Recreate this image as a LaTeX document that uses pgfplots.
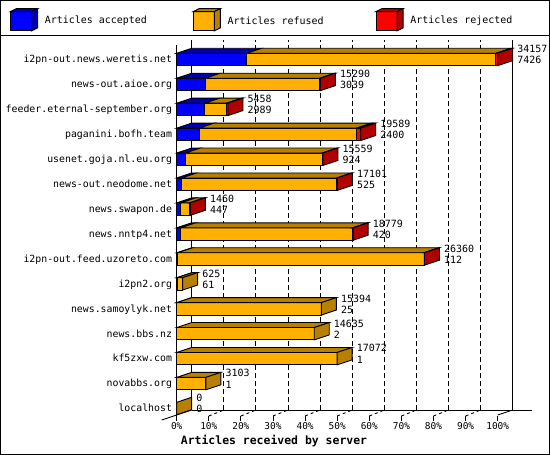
\documentclass[border=0pt]{standalone}
\usepackage{fontspec}
\setmainfont{DejaVu Sans Mono}
\usepackage{pgfplots}
\usepackage{pgfplotstable}
\pgfplotsset{compat=1.18}
\definecolor{cBlue}{RGB}{0,0,255}
\definecolor{cBlueD}{RGB}{0,0,176}
\definecolor{cOrange}{RGB}{255,176,0}
\definecolor{cOrangeD}{RGB}{184,128,0}
\definecolor{cRed}{RGB}{255,0,0}
\definecolor{cRedD}{RGB}{176,0,0}
\pgfplotsset{face/.style={draw=black, line width=0.9bp, forget plot}}

% row total accepted rejected (refused = total - accepted - rejected)
\pgfplotstableread{
row total acc rej
0 34157 7426 200
1 15290 3039 70
2 5458 2989 140
3 19589 2400 420
4 15559 924 60
5 17101 525 70
6 1460 447 100
7 18779 420 30
8 26360 112 50
9 625 61 0
10 15394 25 0
11 14635 2 0
12 17072 1 0
13 3103 1 0
14 0 0 0
}\data

\begin{document}
\begin{tikzpicture}
\useasboundingbox (0,0) rectangle (550bp,-455bp);
\fontsize{10}{12}\selectfont

% back wall with grid
\begin{axis}[at={(191.7bp,-40bp)}, anchor=north west, scale only axis,
  width=340bp, height=370bp, xmin=0, xmax=36179, ymin=0, ymax=1,
  axis x line*=bottom, axis y line*=left,
  axis line style={-, black, line width=0.9bp},
  xtick={3415.7,6831.4,10247.1,13662.8,17078.5,20494.2,23909.9,27325.6,30741.3},
  xticklabels={}, scaled x ticks=false, ytick=\empty,
  xticklabel style={text opacity=0},
  xmajorgrids, major grid style={black, line width=0.9bp, dash pattern=on 5bp off 3bp},
  major tick length=0pt,
  extra x ticks={34157}, extra x tick labels={},
  extra x tick style={major grid style={solid, black, line width=0.9bp}},
]
\end{axis}

\begin{axis}[at={(176.7bp,-45bp)}, anchor=north west, scale only axis,
  width=321bp, height=371bp,
  xmin=0, xmax=34157, ymin=-14.3, ymax=0.5816,
  clip=false, scaled x ticks=false,
  axis x line*=bottom, axis y line*=left,
  x axis line style={draw=none},
  y axis line style={-, black, line width=0.9bp},
  xtick={0,3415.7,6831.4,10247.1,13662.8,17078.5,20494.2,23909.9,27325.6,30741.3,34157},
  xticklabels={0\%,10\%,20\%,30\%,40\%,50\%,60\%,70\%,80\%,90\%,100\%},
  ytick={-14,-13,-12,-11,-10,-9,-8,-7,-6,-5,-4,-3,-2,-1,0},
  yticklabels={localhost,novabbs.org,kf5zxw.com,news.bbs.nz,news.samoylyk.net,i2pn2.org,i2pn-out.feed.uzoreto.com,news.nntp4.net,news.swapon.de,news-out.neodome.net,usenet.goja.nl.eu.org,paganini.bofh.team,feeder.eternal-september.org,news-out.aioe.org,i2pn-out.news.weretis.net},
  tick align=outside, major tick length=4.5bp,
  ytick style={draw=none},
  xtick style={black, line width=0.9bp},
  /pgf/number format/assume math mode=true,
  xticklabel style={font=\fontsize{9.5}{10}\selectfont, anchor=center, yshift=-6bp},
  yticklabel style={font=\fontsize{9.9}{12}\selectfont, anchor=east, inner xsep=0pt, xshift=0bp, text height=1.5ex, text depth=0.3ex},
  xlabel={Articles received by server},
  xlabel style={font=\fontsize{11.5}{13}\selectfont\bfseries, at={(rel axis cs:0.3031,0)}, anchor=center, yshift=-25bp},
]
% front faces (stacked: accepted, refused, rejected)
\addplot[xbar, bar width=12.4bp, fill=cRed, draw=black, line width=0.9bp] table[x=total, y expr=-\thisrow{row}] \data;
\addplot[xbar, bar width=12.4bp, fill=cOrange, draw=black, line width=0.9bp] table[x expr=\thisrow{total}-\thisrow{rej}, y expr=-\thisrow{row}] \data;
\addplot[xbar, bar width=12.4bp, fill=cBlue, draw=black, line width=0.9bp] table[x=acc, y expr=-\thisrow{row}] \data;

% top and side faces
% r0
\addplot[face, fill=cBlueD] coordinates {(0,0.2487) (7426,0.2487) (9022,0.4493) (1596,0.4493)} -- cycle;
\addplot[face, fill=cOrangeD] coordinates {(7426,0.2487) (33957,0.2487) (35553,0.4493) (9022,0.4493)} -- cycle;
\addplot[face, fill=cRedD] coordinates {(33957,0.2487) (34157,0.2487) (35753,0.4493) (35553,0.4493)} -- cycle;
\addplot[face, fill=cRedD] coordinates {(34157,-0.2487) (34157,0.2487) (35753,0.4493) (35753,-0.0481)} -- cycle;
% r1
\addplot[face, fill=cBlueD] coordinates {(0,-0.7513) (3039,-0.7513) (4635,-0.5507) (1596,-0.5507)} -- cycle;
\addplot[face, fill=cOrangeD] coordinates {(3039,-0.7513) (15220,-0.7513) (16816,-0.5507) (4635,-0.5507)} -- cycle;
\addplot[face, fill=cRedD] coordinates {(15220,-0.7513) (15290,-0.7513) (16886,-0.5507) (16816,-0.5507)} -- cycle;
\addplot[face, fill=cRedD] coordinates {(15290,-1.2487) (15290,-0.7513) (16886,-0.5507) (16886,-1.0481)} -- cycle;
% r2
\addplot[face, fill=cBlueD] coordinates {(0,-1.7513) (2989,-1.7513) (4585,-1.5507) (1596,-1.5507)} -- cycle;
\addplot[face, fill=cOrangeD] coordinates {(2989,-1.7513) (5318,-1.7513) (6914,-1.5507) (4585,-1.5507)} -- cycle;
\addplot[face, fill=cRedD] coordinates {(5318,-1.7513) (5458,-1.7513) (7054,-1.5507) (6914,-1.5507)} -- cycle;
\addplot[face, fill=cRedD] coordinates {(5458,-2.2487) (5458,-1.7513) (7054,-1.5507) (7054,-2.0481)} -- cycle;
% r3
\addplot[face, fill=cBlueD] coordinates {(0,-2.7513) (2400,-2.7513) (3996,-2.5507) (1596,-2.5507)} -- cycle;
\addplot[face, fill=cOrangeD] coordinates {(2400,-2.7513) (19169,-2.7513) (20765,-2.5507) (3996,-2.5507)} -- cycle;
\addplot[face, fill=cRedD] coordinates {(19169,-2.7513) (19589,-2.7513) (21185,-2.5507) (20765,-2.5507)} -- cycle;
\addplot[face, fill=cRedD] coordinates {(19589,-3.2487) (19589,-2.7513) (21185,-2.5507) (21185,-3.0481)} -- cycle;
% r4
\addplot[face, fill=cBlueD] coordinates {(0,-3.7513) (924,-3.7513) (2520,-3.5507) (1596,-3.5507)} -- cycle;
\addplot[face, fill=cOrangeD] coordinates {(924,-3.7513) (15499,-3.7513) (17095,-3.5507) (2520,-3.5507)} -- cycle;
\addplot[face, fill=cRedD] coordinates {(15499,-3.7513) (15559,-3.7513) (17155,-3.5507) (17095,-3.5507)} -- cycle;
\addplot[face, fill=cRedD] coordinates {(15559,-4.2487) (15559,-3.7513) (17155,-3.5507) (17155,-4.0481)} -- cycle;
% r5
\addplot[face, fill=cBlueD] coordinates {(0,-4.7513) (525,-4.7513) (2121,-4.5507) (1596,-4.5507)} -- cycle;
\addplot[face, fill=cOrangeD] coordinates {(525,-4.7513) (17031,-4.7513) (18627,-4.5507) (2121,-4.5507)} -- cycle;
\addplot[face, fill=cRedD] coordinates {(17031,-4.7513) (17101,-4.7513) (18697,-4.5507) (18627,-4.5507)} -- cycle;
\addplot[face, fill=cRedD] coordinates {(17101,-5.2487) (17101,-4.7513) (18697,-4.5507) (18697,-5.0481)} -- cycle;
% r6
\addplot[face, fill=cBlueD] coordinates {(0,-5.7513) (447,-5.7513) (2043,-5.5507) (1596,-5.5507)} -- cycle;
\addplot[face, fill=cOrangeD] coordinates {(447,-5.7513) (1360,-5.7513) (2956,-5.5507) (2043,-5.5507)} -- cycle;
\addplot[face, fill=cRedD] coordinates {(1360,-5.7513) (1460,-5.7513) (3056,-5.5507) (2956,-5.5507)} -- cycle;
\addplot[face, fill=cRedD] coordinates {(1460,-6.2487) (1460,-5.7513) (3056,-5.5507) (3056,-6.0481)} -- cycle;
% r7
\addplot[face, fill=cBlueD] coordinates {(0,-6.7513) (420,-6.7513) (2016,-6.5507) (1596,-6.5507)} -- cycle;
\addplot[face, fill=cOrangeD] coordinates {(420,-6.7513) (18749,-6.7513) (20345,-6.5507) (2016,-6.5507)} -- cycle;
\addplot[face, fill=cRedD] coordinates {(18749,-6.7513) (18779,-6.7513) (20375,-6.5507) (20345,-6.5507)} -- cycle;
\addplot[face, fill=cRedD] coordinates {(18779,-7.2487) (18779,-6.7513) (20375,-6.5507) (20375,-7.0481)} -- cycle;
% r8
\addplot[face, fill=cBlueD] coordinates {(0,-7.7513) (112,-7.7513) (1708,-7.5507) (1596,-7.5507)} -- cycle;
\addplot[face, fill=cOrangeD] coordinates {(112,-7.7513) (26310,-7.7513) (27906,-7.5507) (1708,-7.5507)} -- cycle;
\addplot[face, fill=cRedD] coordinates {(26310,-7.7513) (26360,-7.7513) (27956,-7.5507) (27906,-7.5507)} -- cycle;
\addplot[face, fill=cRedD] coordinates {(26360,-8.2487) (26360,-7.7513) (27956,-7.5507) (27956,-8.0481)} -- cycle;
% r9
\addplot[face, fill=cBlueD] coordinates {(0,-8.7513) (61,-8.7513) (1657,-8.5507) (1596,-8.5507)} -- cycle;
\addplot[face, fill=cOrangeD] coordinates {(61,-8.7513) (625,-8.7513) (2221,-8.5507) (1657,-8.5507)} -- cycle;
\addplot[face, fill=cOrangeD] coordinates {(625,-9.2487) (625,-8.7513) (2221,-8.5507) (2221,-9.0481)} -- cycle;
% r10
\addplot[face, fill=cBlueD] coordinates {(0,-9.7513) (25,-9.7513) (1621,-9.5507) (1596,-9.5507)} -- cycle;
\addplot[face, fill=cOrangeD] coordinates {(25,-9.7513) (15394,-9.7513) (16990,-9.5507) (1621,-9.5507)} -- cycle;
\addplot[face, fill=cOrangeD] coordinates {(15394,-10.2487) (15394,-9.7513) (16990,-9.5507) (16990,-10.0481)} -- cycle;
% r11
\addplot[face, fill=cOrangeD] coordinates {(2,-10.7513) (14635,-10.7513) (16231,-10.5507) (1598,-10.5507)} -- cycle;
\addplot[face, fill=cOrangeD] coordinates {(14635,-11.2487) (14635,-10.7513) (16231,-10.5507) (16231,-11.0481)} -- cycle;
% r12
\addplot[face, fill=cOrangeD] coordinates {(1,-11.7513) (17072,-11.7513) (18668,-11.5507) (1597,-11.5507)} -- cycle;
\addplot[face, fill=cOrangeD] coordinates {(17072,-12.2487) (17072,-11.7513) (18668,-11.5507) (18668,-12.0481)} -- cycle;
% r13
\addplot[face, fill=cOrangeD] coordinates {(1,-12.7513) (3103,-12.7513) (4699,-12.5507) (1597,-12.5507)} -- cycle;
\addplot[face, fill=cOrangeD] coordinates {(3103,-13.2487) (3103,-12.7513) (4699,-12.5507) (4699,-13.0481)} -- cycle;
% r14 (zero)
\addplot[face, fill=cOrangeD] coordinates {(0,-14.2487) (0,-13.7513) (1596,-13.5507) (1596,-14.0481)} -- cycle;

% value labels: total (top) and accepted (bottom)
\addplot[draw=none, mark=none, point meta=explicit symbolic, nodes near coords,
  nodes near coords style={anchor=west, inner sep=0pt, xshift=19.5bp, yshift=10.3bp, font=\fontsize{10}{12}\selectfont}]
  table[x=total, y expr=-\thisrow{row}, meta=total] \data;
\addplot[draw=none, mark=none, point meta=explicit symbolic, nodes near coords,
  nodes near coords style={anchor=west, inner sep=0pt, xshift=19.5bp, yshift=-0.8bp, font=\fontsize{10}{12}\selectfont}]
  table[x=total, y expr=-\thisrow{row}, meta=acc] \data;
\end{axis}

% floor edges and depth ticks
\draw[line width=0.9bp] (161.7bp,-420bp) -- (191.7bp,-410bp);
\draw[line width=0.9bp] (497.7bp,-415bp) -- (512.7bp,-410bp);
\foreach \k in {1,...,9} {
  \draw[line width=0.9bp, dash pattern=on 3bp off 3bp] ({176.7bp+32.1bp*\k},-416bp) -- ({191.7bp+32.1bp*\k},-410bp);
}

% legend
\foreach \dx/\cf/\cd/\txt in {0/cBlue/cBlueD/Articles accepted, 182.8/cOrange/cOrangeD/Articles refused, 365.5/cRed/cRedD/Articles rejected} {
  \begin{scope}[xshift=\dx bp]
  \filldraw[fill=\cf, draw=black, line width=0.9bp] (10.5bp,-11.6bp) rectangle (31.6bp,-30.9bp);
  \filldraw[fill=\cd, draw=black, line width=0.9bp] (10.5bp,-11.6bp) -- (31.6bp,-11.6bp) -- (37.6bp,-8.6bp) -- (16.5bp,-8.6bp) -- cycle;
  \filldraw[fill=\cd, draw=black, line width=0.9bp] (31.6bp,-11.6bp) -- (31.6bp,-30.9bp) -- (37.6bp,-27.9bp) -- (37.6bp,-8.6bp) -- cycle;
  \node[anchor=west, inner sep=0pt, font=\fontsize{10}{12}\selectfont] at (44.6bp,-21bp) {\txt};
  \end{scope}
}

% frame
\draw[line width=1bp] (0.5bp,-0.5bp) rectangle (549.5bp,-454.5bp);
\draw[line width=1bp] (0,-35bp) -- (550bp,-35bp);
\end{tikzpicture}
\end{document}
